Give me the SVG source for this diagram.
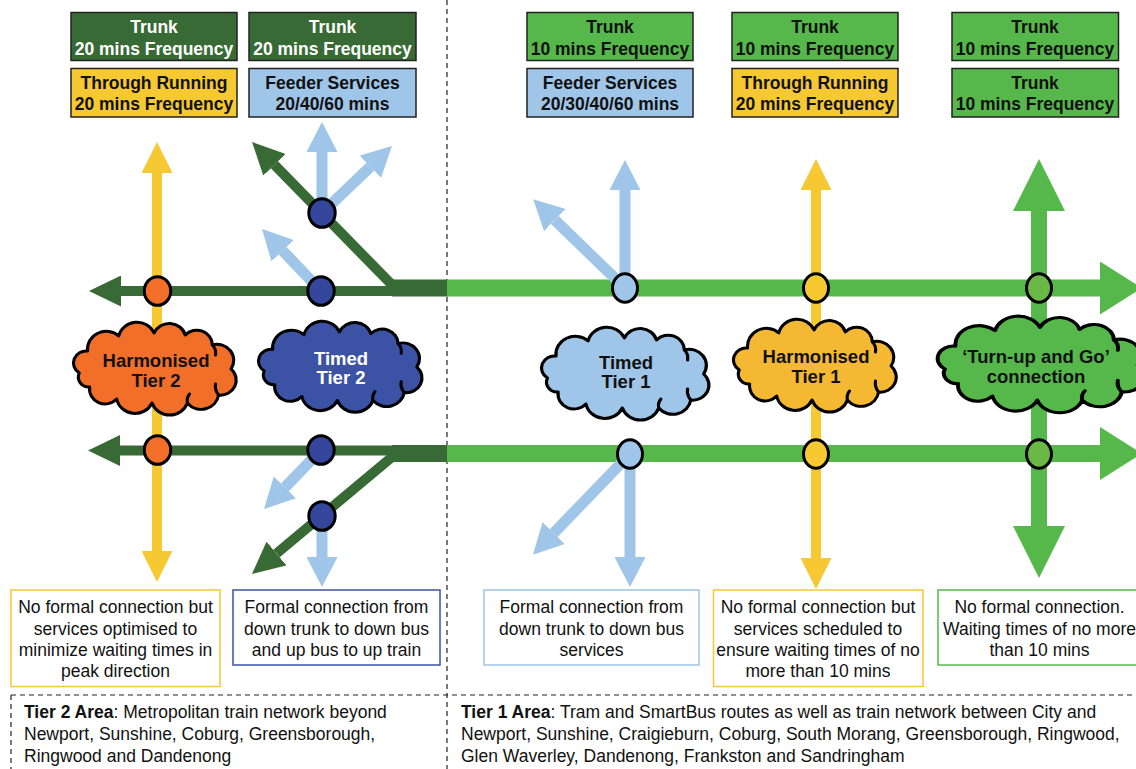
<svg xmlns="http://www.w3.org/2000/svg" width="1136" height="769" viewBox="0 0 1136 769">
<style>
.hb{font-family:"Liberation Sans",Arial,sans-serif;font-weight:bold;font-size:17.5px;text-anchor:middle}
.ct{font-family:"Liberation Sans",Arial,sans-serif;font-weight:bold;font-size:18.5px;text-anchor:middle}
.bt{font-family:"Liberation Sans",Arial,sans-serif;font-size:17.5px;text-anchor:middle;fill:#111}
.at{font-family:"Liberation Sans",Arial,sans-serif;font-size:17.5px;fill:#111}
.hdr{stroke:#222;stroke-width:1.5}
.cl{stroke:#000;stroke-width:3;stroke-linejoin:round}
.inner{fill:none;stroke:#000;stroke-width:3;stroke-linecap:round}
.stn{stroke:#000;stroke-width:3}
.dash{fill:none;stroke:#222;stroke-width:1.2;stroke-dasharray:5 4}
.dg{stroke:#386a35;stroke-width:10;fill:none}
.lb{stroke:#9fc5e8;stroke-width:11;fill:none}
.yl{stroke:#f6c832;stroke-width:10;fill:none}
.gr{stroke:#56b84b;fill:none}
</style>
<defs>
<marker id="m-dg" markerUnits="userSpaceOnUse" markerWidth="32" markerHeight="31" refX="0" refY="15.5" orient="auto"><path d="M0,0 L32,15.5 L0,31 Z" fill="#386a35"/></marker>
<marker id="m-lb" markerUnits="userSpaceOnUse" markerWidth="30" markerHeight="31" refX="0" refY="15.5" orient="auto"><path d="M0,0 L30,15.5 L0,31 Z" fill="#9fc5e8"/></marker>
<marker id="m-yl" markerUnits="userSpaceOnUse" markerWidth="31" markerHeight="31" refX="0" refY="15.5" orient="auto"><path d="M0,0 L31,15.5 L0,31 Z" fill="#f6c832"/></marker>
<marker id="m-gv" markerUnits="userSpaceOnUse" markerWidth="52" markerHeight="52" refX="0" refY="26" orient="auto"><path d="M0,0 L52,26 L0,52 Z" fill="#56b84b"/></marker>
<marker id="m-gh" markerUnits="userSpaceOnUse" markerWidth="42" markerHeight="53" refX="0" refY="26.5" orient="auto"><path d="M0,0 L42,26.5 L0,53 Z" fill="#56b84b"/></marker>
<path id="cloud" d="M6,50 A12,12 0 0 1 14,28 A18,18 0 0 1 44,13 A18,18 0 0 1 78,10 A16,16 0 0 1 108,12 A15,15 0 0 1 134,22 A16,16 0 0 1 152,46 A15,15 0 0 1 140,72 A17,17 0 0 1 110,80 A18,18 0 0 1 76,80 A18,18 0 0 1 42,76 A15,15 0 0 1 16,64 A10,10 0 0 1 6,50 Z"/>
<path id="cloud-in" d="M134,22 q4,4 3,10 M140,72 q-4,-5 -3,-11 M110,80 q-1,-5 2,-9"/>
</defs>
<rect width="1136" height="769" fill="#fff"/>

<!-- area dividers -->
<g id="dividers">
<line class="dash" x1="447" y1="0" x2="447" y2="769"/>
<line class="dash" x1="11" y1="695" x2="1136" y2="695"/>
<line class="dash" x1="11" y1="695" x2="11" y2="769"/>
</g>

<!-- connectors -->
<g id="connectors">
<line class="dg" x1="397" y1="291" x2="121" y2="291" marker-end="url(#m-dg)"/>
<line class="dg" x1="397" y1="290" x2="274.4" y2="164.8" marker-end="url(#m-dg)"/>
<rect x="392" y="279.5" width="56" height="17" fill="#386a35"/>
<line class="gr" stroke-width="17" x1="447" y1="288" x2="1100" y2="288" marker-end="url(#m-gh)"/>
<line class="dg" x1="397" y1="450.5" x2="120" y2="450.5" marker-end="url(#m-dg)"/>
<line class="dg" x1="398" y1="452" x2="276.5" y2="553.5" marker-end="url(#m-dg)"/>
<rect x="392" y="445" width="56" height="17" fill="#386a35"/>
<line class="gr" stroke-width="17" x1="447" y1="453.5" x2="1100" y2="453.5" marker-end="url(#m-gh)"/>
<line class="lb" x1="322" y1="213" x2="322" y2="152" marker-end="url(#m-lb)"/>
<line class="lb" x1="322" y1="213" x2="370.3" y2="166.7" marker-end="url(#m-lb)"/>
<line class="lb" x1="321" y1="291" x2="282.7" y2="250.7" marker-end="url(#m-lb)"/>
<line class="lb" x1="321" y1="450" x2="284.9" y2="487.4" marker-end="url(#m-lb)"/>
<line class="lb" x1="322" y1="516" x2="322" y2="557" marker-end="url(#m-lb)"/>
<line class="lb" x1="625" y1="288" x2="625" y2="190" marker-end="url(#m-lb)"/>
<line class="lb" x1="625" y1="288" x2="554.8" y2="220" marker-end="url(#m-lb)"/>
<line class="lb" x1="630" y1="454" x2="630" y2="557" marker-end="url(#m-lb)"/>
<line class="lb" x1="630" y1="454" x2="553.7" y2="533.1" marker-end="url(#m-lb)"/>
<line class="yl" x1="157" y1="370" x2="157" y2="173" marker-end="url(#m-yl)"/>
<line class="yl" x1="157" y1="370" x2="157" y2="551" marker-end="url(#m-yl)"/>
<line class="yl" x1="816" y1="370" x2="816" y2="190" marker-end="url(#m-yl)"/>
<line class="yl" x1="816" y1="370" x2="816" y2="558" marker-end="url(#m-yl)"/>
<line class="gr" stroke-width="16" x1="1039" y1="370" x2="1039" y2="211" marker-end="url(#m-gv)"/>
<line class="gr" stroke-width="16" x1="1039" y1="370" x2="1039" y2="526" marker-end="url(#m-gv)"/>
</g>

<!-- stations -->
<g id="stn-o1"><ellipse class="stn" cx="157.5" cy="291" rx="13.2" ry="14.3" fill="#f26f2a"/></g>
<g id="stn-o2"><ellipse class="stn" cx="157.5" cy="450" rx="13.2" ry="14.3" fill="#f26f2a"/></g>
<g id="stn-b1"><ellipse class="stn" cx="322" cy="213" rx="13.2" ry="14.3" fill="#34479c"/></g>
<g id="stn-b2"><ellipse class="stn" cx="321" cy="291" rx="13.2" ry="14.3" fill="#34479c"/></g>
<g id="stn-b3"><ellipse class="stn" cx="321" cy="450" rx="13.2" ry="14.3" fill="#34479c"/></g>
<g id="stn-b4"><ellipse class="stn" cx="322" cy="516" rx="13.2" ry="14.3" fill="#34479c"/></g>
<g id="stn-l1"><ellipse class="stn" cx="625" cy="288" rx="12.5" ry="14.3" fill="#9fc5e8"/></g>
<g id="stn-l2"><ellipse class="stn" cx="630" cy="454" rx="12.5" ry="14.3" fill="#9fc5e8"/></g>
<g id="stn-y1"><ellipse class="stn" cx="816" cy="288" rx="12.5" ry="14.3" fill="#f6c832"/></g>
<g id="stn-y2"><ellipse class="stn" cx="816" cy="454" rx="12.5" ry="14.3" fill="#f6c832"/></g>
<g id="stn-g1"><ellipse class="stn" cx="1039" cy="288" rx="12.5" ry="14.3" fill="#6ab946"/></g>
<g id="stn-g2"><ellipse class="stn" cx="1039" cy="454" rx="12.5" ry="14.3" fill="#6ab946"/></g>

<!-- clouds -->
<g id="cloud-harm2">
<g transform="translate(73,323) scale(1.04,1)"><use href="#cloud" class="cl" fill="#f26f2a"/><use href="#cloud-in" class="inner"/></g>
<text class="ct" x="156" y="367" fill="#111">Harmonised</text>
<text class="ct" x="156" y="387" fill="#111">Tier 2</text>
</g>
<g id="cloud-timed2">
<g transform="translate(258,322) scale(1.045,0.98)"><use href="#cloud" class="cl" fill="#3c52a4"/><use href="#cloud-in" class="inner"/></g>
<text class="ct" x="341" y="365" fill="#fff">Timed</text>
<text class="ct" x="341" y="384" fill="#fff">Tier 2</text>
</g>
<g id="cloud-timed1">
<g transform="translate(541,328) scale(1.07,1)"><use href="#cloud" class="cl" fill="#9fc5e8"/><use href="#cloud-in" class="inner"/></g>
<text class="ct" x="626" y="369" fill="#111">Timed</text>
<text class="ct" x="626" y="388" fill="#111">Tier 1</text>
</g>
<g id="cloud-harm1">
<g transform="translate(733,320) scale(1.04,1)"><use href="#cloud" class="cl" fill="#f5b833"/><use href="#cloud-in" class="inner"/></g>
<text class="ct" x="816" y="363" fill="#111">Harmonised</text>
<text class="ct" x="816" y="383" fill="#111">Tier 1</text>
</g>
<g id="cloud-turnup">
<g transform="translate(937,317) scale(1.32,1.04)"><use href="#cloud" class="cl" fill="#56b84b"/><use href="#cloud-in" class="inner"/></g>
<text class="ct" x="1036" y="363" fill="#111">‘Turn-up and Go’</text>
<text class="ct" x="1036" y="383" fill="#111">connection</text>
</g>

<!-- service headers -->
<g id="hdr-1a"><rect class="hdr" x="71" y="12.5" width="166" height="48" fill="#386a35"/><text class="hb" x="154" y="32.5" fill="#fff">Trunk</text><text class="hb" x="154" y="55" fill="#fff">20 mins Frequency</text></g>
<g id="hdr-1b"><rect class="hdr" x="71" y="68.5" width="166" height="48.5" fill="#f6c832"/><text class="hb" x="154" y="88.5" fill="#111">Through Running</text><text class="hb" x="154" y="110" fill="#111">20 mins Frequency</text></g>
<g id="hdr-2a"><rect class="hdr" x="249" y="12.5" width="167" height="48" fill="#386a35"/><text class="hb" x="332.5" y="32.5" fill="#fff">Trunk</text><text class="hb" x="332.5" y="55" fill="#fff">20 mins Frequency</text></g>
<g id="hdr-2b"><rect class="hdr" x="249" y="68.5" width="167" height="48.5" fill="#9fc5e8"/><text class="hb" x="332.5" y="88.5" fill="#111">Feeder Services</text><text class="hb" x="332.5" y="110" fill="#111">20/40/60 mins</text></g>
<g id="hdr-3a"><rect class="hdr" x="527" y="12.5" width="166" height="48" fill="#56b84b"/><text class="hb" x="610" y="32.5" fill="#111">Trunk</text><text class="hb" x="610" y="55" fill="#111">10 mins Frequency</text></g>
<g id="hdr-3b"><rect class="hdr" x="527" y="68.5" width="166" height="48.5" fill="#9fc5e8"/><text class="hb" x="610" y="88.5" fill="#111">Feeder Services</text><text class="hb" x="610" y="110" fill="#111">20/30/40/60 mins</text></g>
<g id="hdr-4a"><rect class="hdr" x="732" y="12.5" width="166" height="48" fill="#56b84b"/><text class="hb" x="815" y="32.5" fill="#111">Trunk</text><text class="hb" x="815" y="55" fill="#111">10 mins Frequency</text></g>
<g id="hdr-4b"><rect class="hdr" x="732" y="68.5" width="166" height="48.5" fill="#f6c832"/><text class="hb" x="815" y="88.5" fill="#111">Through Running</text><text class="hb" x="815" y="110" fill="#111">20 mins Frequency</text></g>
<g id="hdr-5a"><rect class="hdr" x="952" y="12.5" width="166.5" height="48" fill="#56b84b"/><text class="hb" x="1035" y="32.5" fill="#111">Trunk</text><text class="hb" x="1035" y="55" fill="#111">10 mins Frequency</text></g>
<g id="hdr-5b"><rect class="hdr" x="952" y="68.5" width="166.5" height="48.5" fill="#56b84b"/><text class="hb" x="1035" y="88.5" fill="#111">Trunk</text><text class="hb" x="1035" y="110" fill="#111">10 mins Frequency</text></g>

<!-- descriptions -->
<g id="desc-1"><rect x="11" y="590" width="209" height="96.5" fill="#fff" stroke="#f6c832" stroke-width="1.5"/>
<text class="bt" x="115.5" y="613">No formal connection but</text><text class="bt" x="115.5" y="635">services optimised to</text><text class="bt" x="115.5" y="656">minimize waiting times in</text><text class="bt" x="115.5" y="677">peak direction</text></g>
<g id="desc-2"><rect x="233" y="590" width="207" height="75" fill="#fff" stroke="#3c52a4" stroke-width="1.5"/>
<text class="bt" x="336.5" y="613">Formal connection from</text><text class="bt" x="336.5" y="635">down trunk to down bus</text><text class="bt" x="336.5" y="656">and up bus to up train</text></g>
<g id="desc-3"><rect x="484" y="590" width="215" height="75" fill="#fff" stroke="#9fc5e8" stroke-width="1.5"/>
<text class="bt" x="591.5" y="613">Formal connection from</text><text class="bt" x="591.5" y="635">down trunk to down bus</text><text class="bt" x="591.5" y="656">services</text></g>
<g id="desc-4"><rect x="713.5" y="590" width="209.5" height="96.5" fill="#fff" stroke="#f6c832" stroke-width="1.5"/>
<text class="bt" x="818" y="613">No formal connection but</text><text class="bt" x="818" y="635">services scheduled to</text><text class="bt" x="818" y="656">ensure waiting times of no</text><text class="bt" x="818" y="677">more than 10 mins</text></g>
<g id="desc-5"><rect x="938" y="590" width="215" height="75" fill="#fff" stroke="#56b84b" stroke-width="1.5"/>
<text class="bt" x="1039.5" y="613">No formal connection.</text><text class="bt" x="1039.5" y="635">Waiting times of no more</text><text class="bt" x="1039.5" y="656">than 10 mins</text></g>

<!-- area notes -->
<g id="area-tier2">
<text class="at" x="24" y="718"><tspan font-weight="bold">Tier 2 Area</tspan>: Metropolitan train network beyond</text>
<text class="at" x="24" y="740">Newport, Sunshine, Coburg, Greensborough,</text>
<text class="at" x="24" y="762">Ringwood and Dandenong</text>
</g>
<g id="area-tier1">
<text class="at" x="461" y="718"><tspan font-weight="bold">Tier 1 Area</tspan>: Tram and SmartBus routes as well as train network between City and</text>
<text class="at" x="461" y="740">Newport, Sunshine, Craigieburn, Coburg, South Morang, Greensborough, Ringwood,</text>
<text class="at" x="461" y="762">Glen Waverley, Dandenong, Frankston and Sandringham</text>
</g>
</svg>
